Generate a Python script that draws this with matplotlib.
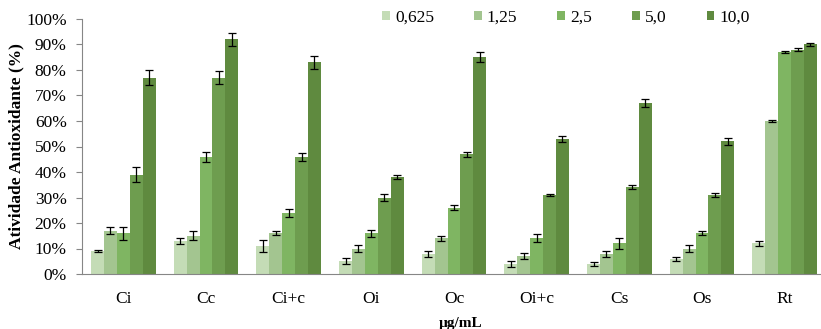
import matplotlib.pyplot as plt
import numpy as np
from matplotlib.ticker import PercentFormatter

plt.rcParams['font.family'] = ['Liberation Serif', 'DejaVu Serif']

samples = ['Ci', 'Cc', 'Ci+c', 'Oi', 'Oc', 'Oi+c', 'Cs', 'Os', 'Rt']
doses = ['0,625', '1,25', '2,5', '5,0', '10,0']

# activity (%) per dose, one value per sample
act_0625 = [9, 13, 11, 5, 8, 4, 4, 6, 12]
act_125 = [17, 15, 16, 10, 14, 7, 8, 10, 60]
act_25 = [16, 46, 24, 16, 26, 14, 12, 16, 87]
act_50 = [39, 77, 46, 30, 47, 31, 34, 31, 88]
act_100 = [77, 92, 83, 38, 85, 53, 67, 52, 90]

# standard deviations
sd_0625 = [0.3, 1.2, 2.5, 1.2, 1.2, 1.2, 0.8, 0.8, 1.0]
sd_125 = [1.5, 1.8, 0.8, 1.2, 1.0, 1.2, 1.2, 1.2, 0.5]
sd_25 = [2.5, 2.0, 1.5, 1.3, 1.0, 1.5, 2.0, 0.8, 0.5]
sd_50 = [3.0, 2.5, 1.5, 1.5, 1.0, 0.5, 0.8, 0.8, 0.5]
sd_100 = [3.0, 2.5, 2.5, 0.8, 2.0, 1.2, 1.5, 1.5, 0.5]

series = [act_0625, act_125, act_25, act_50, act_100]
errors = [sd_0625, sd_125, sd_25, sd_50, sd_100]
colors = ['#c4dcb6', '#a3c590', '#7fb562', '#6e9d4f', '#5f8a3f']

fig = plt.figure(figsize=(8.21, 3.29), dpi=100)
ax = fig.add_axes([82 / 821, 55 / 329, 744 / 821, 255 / 329])

x = np.arange(len(samples))
w = 0.78 / len(series)
for i, (vals, err, c, lab) in enumerate(zip(series, errors, colors, doses)):
    pos = x + (i - 2) * w
    ax.bar(pos, vals, width=w, color=c, label=lab, linewidth=0)
    ax.errorbar(pos, vals, yerr=err, fmt='none', ecolor='black',
                elinewidth=0.9, capsize=3, capthick=0.9)

ax.set_xlim(-0.5, len(samples) - 0.5)
ax.set_ylim(0, 100)
ax.set_yticks(np.arange(0, 101, 10))
ax.yaxis.set_major_formatter(PercentFormatter(decimals=0))
ax.set_xticks(x)
ax.set_xticklabels(samples)
ax.tick_params(axis='x', length=0, labelsize=12.5, pad=12)
ax.tick_params(axis='y', length=4, labelsize=12.5, color='#868686', pad=7)

for s in ['top', 'right']:
    ax.spines[s].set_visible(False)
ax.spines['left'].set_color('#868686')
ax.spines['bottom'].set_color('#868686')

ax.set_ylabel('Atividade Antioxidante (%)', fontsize=12.5, fontweight='bold')
ax.yaxis.set_label_coords(-0.077, 0.5)
fig.text(461 / 821, 1 - 323 / 329, 'µg/mL', ha='center', va='center',
         fontsize=11, fontweight='bold')

leg = ax.legend(ncol=5, loc='center', bbox_to_anchor=(566 / 821, 1 - 18 / 329),
                bbox_transform=fig.transFigure, frameon=False, fontsize=12.5,
                handlelength=0.45, handleheight=0.45, handletextpad=0.3,
                columnspacing=2.3, borderpad=0)

fig.savefig('out.png', dpi=100)
